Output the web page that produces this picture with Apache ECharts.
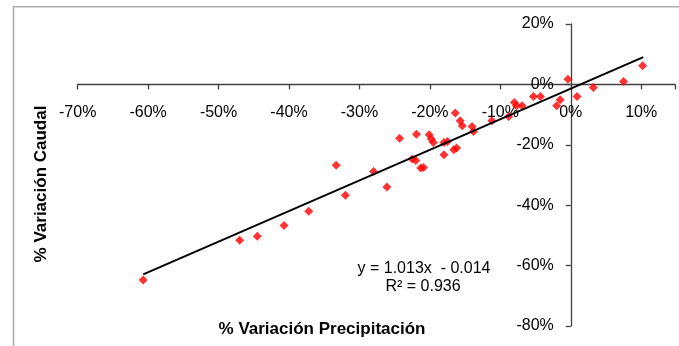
<!DOCTYPE html>
<html>
<head>
<meta charset="utf-8">
<script src="https://cdn.jsdelivr.net/npm/echarts@6/dist/echarts.min.js"></script>
<style>
html,body{margin:0;padding:0;background:#fff;}
#chart{width:679px;height:346px;}
</style>
</head>
<body>
<div id="chart"></div>
<script>
// % Variación Precipitación (x) and % Variación Caudal (y), in percent
const precip = [-60.7,-47.0,-44.5,-40.7,-37.2,-33.3,-32.0,-28.0,-26.1,-24.3,-21.9,-22.5,-22.0,-21.3,-20.9,-20.1,-19.8,-19.5,-18.0,-17.5,-18.0,-16.6,-16.2,-16.4,-15.7,-15.4,-14.0,-13.8,-11.2,-8.8,-8.0,-7.7,-6.9,-5.3,-4.3,-2.0,-1.5,-0.4,0.9,3.2,7.5,10.2];
const caudal = [-64.8,-51.6,-50.3,-46.7,-42.0,-26.8,-36.7,-28.8,-34.0,-17.8,-16.5,-24.7,-25.2,-27.7,-27.5,-16.7,-18.1,-19.2,-19.2,-18.9,-23.3,-21.6,-21.1,-9.5,-12.0,-13.7,-13.9,-15.6,-12.0,-10.6,-6.0,-7.1,-7.1,-4.0,-4.0,-7.1,-5.1,1.7,-4.0,-1.0,1.0,6.2];
const xTicks = [-70,-60,-50,-40,-30,-20,-10,0,10];
const yTicks = [-80,-60,-40,-20,0,20];
const trendSlope = 1.013;
const trendIntercept = -1.4; // -0.014 in percent units
const trendRange = [-60.7, 10.3];
const eqText = 'y = 1.013x  - 0.014';
const r2Text = 'R² = 0.936';
const xTitle = '% Variación Precipitación';
const yTitle = '% Variación Caudal';

const trendData = trendRange.map(x => [x, trendSlope * x + trendIntercept]);
const pts = precip.map((x, i) => [x, caudal[i]]);

const W = 679, H = 346;
const G = {left: 77.7, right: 4, top: 24, bottom: 20};
const xMin = -70, xMax = 14.8, yMin = -80, yMax = 20;
const gw = W - G.left - G.right, gh = H - G.top - G.bottom;
const xZeroOffset = -gw * (0 - xMin) / (xMax - xMin);   // move y axis to x = 0
const yZeroOffset = -gh * (0 - yMin) / (yMax - yMin);   // move x axis to y = 0

const chart = echarts.init(document.getElementById('chart'), null, {renderer: 'canvas'});
const font = 'Liberation Sans, Arial, sans-serif';
const axisCol = '#404040';
chart.setOption({
  animation: false,
  backgroundColor: '#fff',
  grid: Object.assign({containLabel: false}, G),
  xAxis: {
    type: 'value', min: xMin, max: xMax, interval: 10, position: 'bottom', offset: yZeroOffset,
    splitLine: {show: false},
    axisLine: {show: true, onZero: false, lineStyle: {color: axisCol, width: 1.3}},
    axisTick: {show: true, inside: false, length: 5, lineStyle: {color: axisCol, width: 1.3}},
    axisLabel: {customValues: xTicks, margin: 20, fontFamily: font, fontSize: 16, color: '#000', formatter: v => v + '%'}
  },
  yAxis: {
    type: 'value', min: yMin, max: yMax, interval: 20, position: 'left', offset: xZeroOffset,
    splitLine: {show: false},
    axisLine: {show: true, onZero: false, lineStyle: {color: axisCol, width: 1.3}},
    axisTick: {show: true, inside: false, length: 5, lineStyle: {color: axisCol, width: 1.3}},
    axisLabel: {customValues: yTicks, margin: 17, fontFamily: font, fontSize: 16, color: '#000', formatter: v => v + '%', padding: [3,0,0,0]}
  },
  graphic: [
    {type: 'rect', shape: {x: 13.5, y: 6.8, width: 800, height: 600}, style: {fill: null, stroke: '#ababab', lineWidth: 1.5}, silent: true, z: -1},
    {type: 'text', x: 322, y: 329, style: {text: xTitle, font: 'bold 17px ' + font, fill: '#000', textAlign: 'center', textVerticalAlign: 'middle'}},
    {type: 'text', x: 41, y: 184, rotation: Math.PI / 2, style: {text: yTitle, font: 'bold 17px ' + font, fill: '#000', textAlign: 'center', textVerticalAlign: 'middle'}},
    {type: 'text', x: 424, y: 269, style: {text: eqText, font: '16px ' + font, fill: '#000', textAlign: 'center', textVerticalAlign: 'middle'}},
    {type: 'text', x: 423, y: 287, style: {text: r2Text, font: '16px ' + font, fill: '#000', textAlign: 'center', textVerticalAlign: 'middle'}}
  ],
  series: [
    {
      type: 'scatter', data: pts, symbol: 'diamond', symbolSize: 9,
      itemStyle: {color: '#ff0000'}, z: 3
    },
    {
      type: 'line', data: trendData, symbol: 'none', z: 4,
      lineStyle: {color: '#000', width: 2}
    }
  ]
});
</script>
</body>
</html>
